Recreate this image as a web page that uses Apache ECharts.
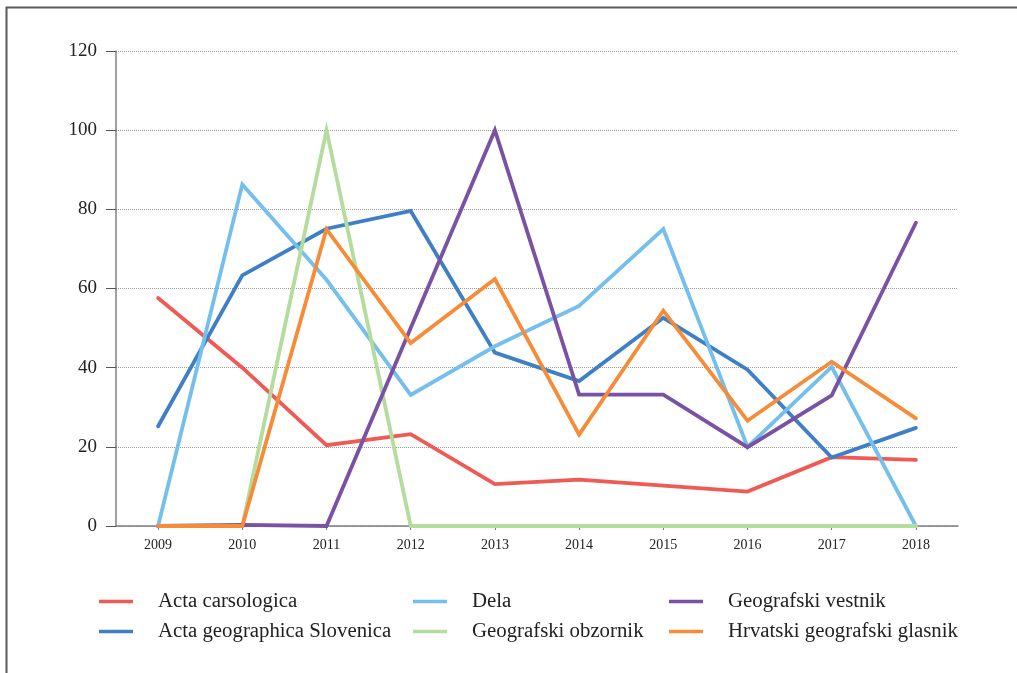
<!DOCTYPE html>
<html>
<head>
<meta charset="utf-8">
<script src="https://cdn.jsdelivr.net/npm/echarts@6/dist/echarts.min.js"></script>
<style>
html,body{margin:0;padding:0;background:#fff;}
#chart{width:1017px;height:673px;}
</style>
</head>
<body>
<div id="chart"></div>
<script>
var years = ['2009','2010','2011','2012','2013','2014','2015','2016','2017','2018'];
var yTicks = [0, 20, 40, 60, 80, 100, 120];
var actaCarsologica = [57.6, 40, 20.4, 23.2, 10.6, 11.7, 10.2, 8.7, 17.4, 16.7];
var actaGeographica = [25.2, 63.3, 75.1, 79.6, 43.8, 36.6, 52.6, 39.5, 17.3, 24.8];
var dela = [0, 86.3, 62.2, 33.1, 45.4, 55.6, 75.0, 20.0, 40.2, 0];
var geoObzornik = [0, 0, 100, 0, 0, 0, 0, 0, 0, 0];
var geoVestnik = [0, 0.3, 0, 50, 100, 33.2, 33.2, 19.9, 33, 76.6];
var hrvatski = [0, 0, 75, 46.2, 62.4, 23.1, 54.4, 26.6, 41.5, 27.2];

var names = ['Acta carsologica', 'Acta geographica Slovenica', 'Dela', 'Geografski obzornik', 'Geografski vestnik', 'Hrvatski geografski glasnik'];
var values = [actaCarsologica, actaGeographica, dela, geoObzornik, geoVestnik, hrvatski];
var colors = ['#f05a55', '#3f7fc5', '#74bfeb', '#b4dc9c', '#7a52a3', '#f68b38'];

var FONT = '"Liberation Serif", "DejaVu Serif", serif';

var series = names.map(function (n, i) {
  return {
    name: n,
    type: 'line',
    data: values[i],
    symbol: 'none',
    smooth: false,
    lineStyle: { width: 3.8, color: colors[i], cap: 'round', join: 'miter' },
    itemStyle: { color: colors[i] },
    emphasis: { disabled: true },
    animation: false
  };
});

function legendCol(left, data) {
  return {
    left: left, top: 591, orient: 'vertical', padding: 0,
    data: data,
    icon: 'rect', itemWidth: 34, itemHeight: 3.5, itemGap: 9,
    selectedMode: false,
    textStyle: { fontFamily: FONT, fontSize: 20.8, color: '#222', padding: [0, 0, 0, 20] }
  };
}

var chart = echarts.init(document.getElementById('chart'));
chart.setOption({
  animation: false,
  backgroundColor: '#fff',
  graphic: [{
    type: 'rect',
    shape: { x: 6.5, y: 7.5, width: 1100, height: 1000 },
    style: { fill: 'none', stroke: '#5a5a5a', lineWidth: 2 },
    silent: true
  }],
  grid: { left: 116, right: 59, top: 51, bottom: 147, containLabel: false },
  legend: [
    legendCol(99, [names[0], names[1]]),
    legendCol(413, [names[2], names[3]]),
    legendCol(669, [names[4], names[5]])
  ],
  xAxis: {
    type: 'category',
    data: years,
    boundaryGap: true,
    axisLine: { show: true, lineStyle: { color: '#808080', width: 1.5 } },
    axisTick: { show: true, alignWithLabel: true, length: 4, lineStyle: { color: '#808080' } },
    axisLabel: { fontFamily: FONT, fontSize: 14, color: '#222', margin: 12 },
    splitLine: { show: false }
  },
  yAxis: {
    type: 'value',
    min: yTicks[0], max: yTicks[yTicks.length - 1], interval: 20,
    axisLine: { show: true, lineStyle: { color: '#808080', width: 1.5 } },
    axisTick: { show: true, inside: false, length: 10, lineStyle: { color: '#555' } },
    axisLabel: { fontFamily: FONT, fontSize: 19, color: '#222', margin: 19 },
    splitLine: { show: true, lineStyle: { type: [1, 1], color: '#9a9a9a', width: 1 } }
  },
  series: series
});
</script>
</body>
</html>
